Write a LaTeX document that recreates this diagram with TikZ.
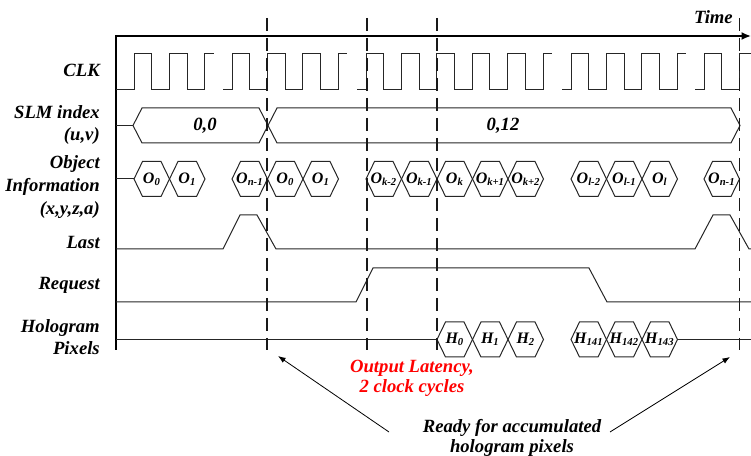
\documentclass[tikz,border=0pt]{standalone}
\usepackage{fontspec}
\setmainfont{Liberation Serif}
\usetikzlibrary{arrows.meta,positioning}

\begin{document}
\begin{tikzpicture}[x=0.75pt,y=-0.75pt,>=Latex,font=\bfseries\itshape\fontsize{14}{17}\selectfont]
\tikzset{sig/.style={draw=black!85,line width=0.75pt},
  hexa/.style={font=\bfseries\itshape\fontsize{12}{12}\selectfont,inner sep=0pt},
  lbl/.style={align=right,anchor=east,inner sep=0pt},
  cut/.style={draw=black!90,line width=1.3pt,dash pattern=on 10pt off 5pt},
  note/.style={align=center,inner sep=0pt,font=\bfseries\itshape\fontsize{14}{15}\selectfont}}
\useasboundingbox (0,0) rectangle (751,456);
% signal names
\node[lbl] (clk) at (100,70) {CLK};
\node[lbl] (slm) at (100,125) {SLM index\\(u,v)};
\node[lbl] (obj) at (100,187) {Object\\Information\\(x,y,z,a)};
\node[lbl] (last) at (100,242) {Last};
\node[lbl] (req) at (100,285) {Request};
\node[lbl] (holo) at (100,337) {Hologram\\Pixels};
\node[anchor=east,inner sep=0pt] (time) at (733,17) {Time};
% axes
\draw[line width=1.4pt,-{Latex[length=7pt,width=6pt]}] (116,350) -- (116,36) -- (751,36);
% clock, broken in five pieces
\foreach \s/\r/\n/\e in {116/134/3/9,223/232/4/9,357/366/6/9,562/571/4/9,695/704/2/12}{
  \draw[sig] (\s,90) -- (\r,90) \foreach \k in {2,...,\n}{ -- ++(0,-36) -- ++(17.7,0) -- ++(0,36) -- ++(17.7,0)} -- ++(0,-36) -- ++(\e,0);
}
% SLM index
\draw[sig] (116,125.5) -- (133,125.5);
\draw[sig] (133,125.5) -- (142,108) -- (259,108) -- (268,125.5) -- (259,143) -- (142,143) -- cycle;
\draw[sig] (268,125.5) -- (277,108) -- (731,108) -- (740,125.5) -- (731,143) -- (277,143) -- cycle;
\node (v00) at (205,125.5) {0,0};
\node (v012) at (503,125.5) {0,12};
% object information
\draw[sig] (116,179) -- (134,179);
\foreach \a/\b/\t [count=\i] in {134/169.5/O\textsubscript{0},169.5/205/O\textsubscript{1},
  232/267.5/O\textsubscript{n-1},267.5/303/O\textsubscript{0},303/338.5/O\textsubscript{1},
  366/401.5/O\textsubscript{k-2},401.5/437/O\textsubscript{k-1},437/472.5/O\textsubscript{k},
  472.5/508/O\textsubscript{k+1},508/543.5/O\textsubscript{k+2},
  571/606.5/O\textsubscript{l-2},606.5/642/O\textsubscript{l-1},642/677.5/O\textsubscript{l},
  704/739.5/O\textsubscript{n-1}}{
  \draw[sig] (\a,179) -- (\a+8.5,161.5) -- (\b-8.5,161.5) -- (\b,179) -- (\b-8.5,196.5) -- (\a+8.5,196.5) -- cycle;
  \node[hexa] (o\i) at ({(\a+\b)/2},179) {\t};
}
% last and request
\draw[sig] (116,249) -- (223,249) -- (240,215) -- (257,215) -- (276,249) -- (695,249) -- (713,215) -- (730,215) -- (749,249) -- (751,249);
\draw[sig] (116,302) -- (356,302) -- (373,268) -- (589,268) -- (607,302) -- (751,302);
% hologram pixels
\draw[sig] (116,339.5) -- (437,339.5);
\draw[sig] (677.5,339.5) -- (751,339.5);
\foreach \a/\b/\t [count=\i] in {437/472.5/H\textsubscript{0},472.5/508/H\textsubscript{1},508/543.5/H\textsubscript{2},
  571/606.5/H\textsubscript{141},606.5/642/H\textsubscript{142},642/677.5/H\textsubscript{143}}{
  \draw[sig] (\a,339.5) -- (\a+8.5,322) -- (\b-8.5,322) -- (\b,339.5) -- (\b-8.5,357) -- (\a+8.5,357) -- cycle;
  \node[hexa] (h\i) at ({(\a+\b)/2},339.5) {\t};
}
% cycle boundaries
\foreach \x [count=\i] in {267,367,437,739.5}
  \draw[cut] (\x,18) coordinate (top\i) -- (\x,350) coordinate (bot\i);
% notes
\node[note,text=red] (lat) at (412,378) {Output Latency,\\2 clock cycles};
\node[note] (rdy) at (512,438) {Ready for accumulated\\hologram pixels};
\coordinate (tailL) at (389,432);
\coordinate (tailR) at (610,432);
\coordinate (tipL) at (278,356);
\coordinate (tipR) at (730,357);
\draw[->,line width=0.6pt] (tailL) -- (tipL);
\draw[->,line width=0.6pt] (tailR) -- (tipR);
\end{tikzpicture}
\end{document}
